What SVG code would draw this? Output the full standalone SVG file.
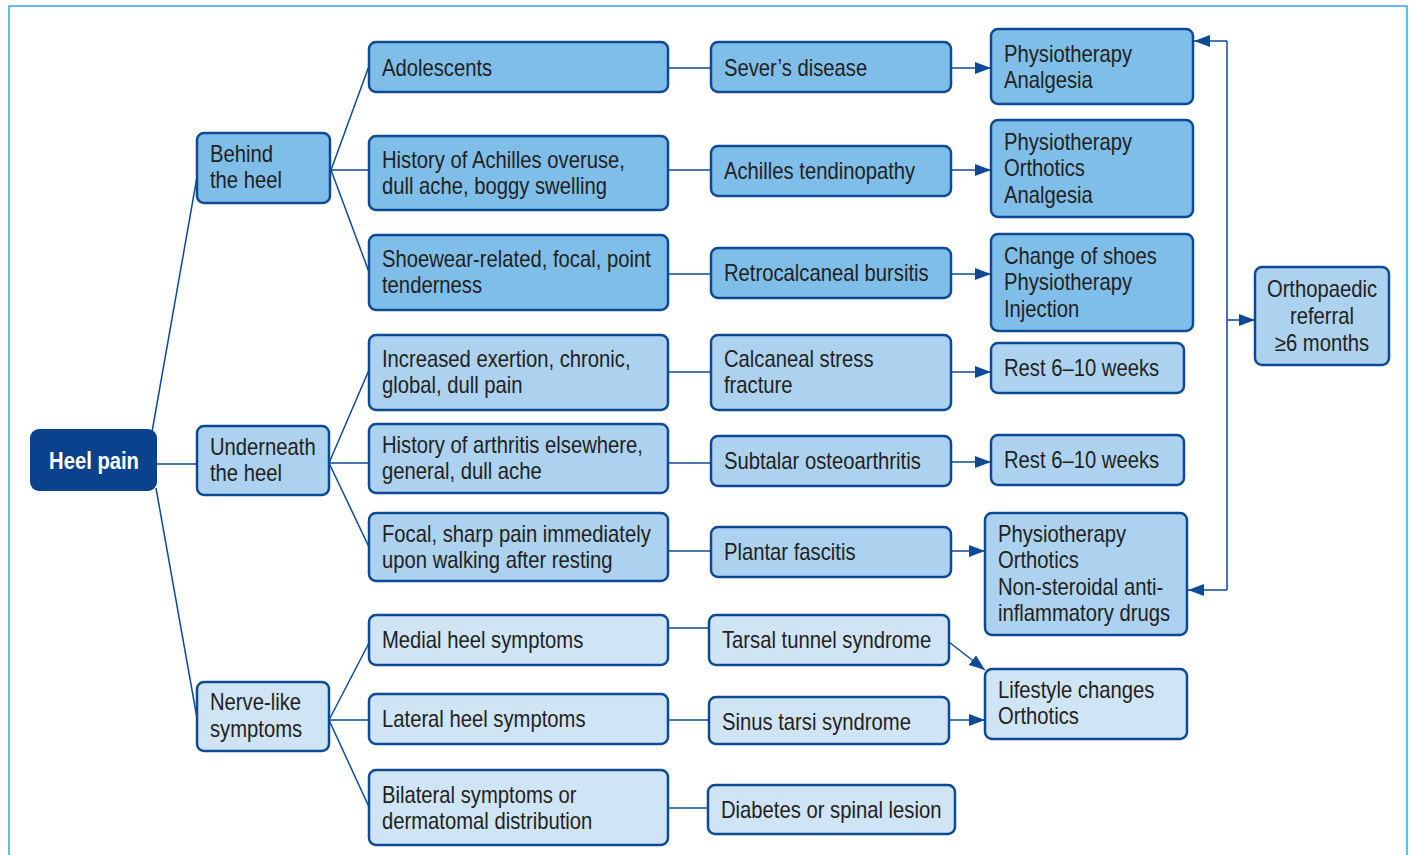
<svg xmlns="http://www.w3.org/2000/svg" width="1412" height="855" viewBox="0 0 1412 855">
<defs>
<marker id="ah" viewBox="0 0 16 12" refX="16" refY="6" markerWidth="16" markerHeight="12" markerUnits="userSpaceOnUse" orient="auto">
<path d="M0,0 L16,6 L0,12 Z" fill="#0d4a96"/>
</marker>
<style>
.b{stroke:#0d4a96;stroke-width:2.5}
.d{fill:#7fbee8}
.m{fill:#acd2f0}
.l{fill:#cfe4f5}
.t{font-family:"Liberation Sans",Arial,sans-serif;font-size:23px;fill:#231f20}
.c{fill:none;stroke:#0d4a96;stroke-width:1.5}
.a{fill:none;stroke:#0d4a96;stroke-width:1.5;marker-end:url(#ah)}
</style>
</defs>
<rect x="0" y="0" width="1412" height="855" fill="#ffffff"/>
<path d="M9,855 V6 H1407 V855" fill="none" stroke="#29abe2" stroke-width="1.5"/>

<g id="connectors">
<line class="c" x1="157" y1="464" x2="197" y2="464"/>
<line class="c" x1="152" y1="432" x2="197" y2="177"/>
<line class="c" x1="156" y1="488" x2="197" y2="718"/>
<line class="c" x1="331" y1="170" x2="369" y2="66"/>
<line class="c" x1="331" y1="170" x2="369" y2="170"/>
<line class="c" x1="331" y1="170" x2="369" y2="272"/>
<line class="c" x1="329" y1="463" x2="369" y2="370"/>
<line class="c" x1="329" y1="463" x2="369" y2="463"/>
<line class="c" x1="329" y1="463" x2="369" y2="547"/>
<line class="c" x1="329" y1="720" x2="369" y2="643"/>
<line class="c" x1="329" y1="720" x2="369" y2="720"/>
<line class="c" x1="329" y1="720" x2="369" y2="807"/>
<line class="c" x1="668" y1="68" x2="711" y2="68"/>
<line class="c" x1="668" y1="170" x2="711" y2="170"/>
<line class="c" x1="668" y1="274" x2="711" y2="274"/>
<line class="c" x1="668" y1="372" x2="711" y2="372"/>
<line class="c" x1="668" y1="463" x2="711" y2="463"/>
<line class="c" x1="668" y1="551" x2="711" y2="551"/>
<line class="c" x1="668" y1="628" x2="709" y2="628"/>
<line class="c" x1="668" y1="720" x2="709" y2="720"/>
<line class="c" x1="668" y1="808" x2="708" y2="808"/>
<line class="a" x1="951" y1="68" x2="991" y2="68"/>
<line class="a" x1="951" y1="170" x2="991" y2="170"/>
<line class="a" x1="951" y1="274" x2="991" y2="274"/>
<line class="a" x1="951" y1="372" x2="991" y2="372"/>
<line class="a" x1="951" y1="462" x2="991" y2="462"/>
<line class="a" x1="951" y1="551" x2="985" y2="551"/>
<line class="a" x1="949" y1="642" x2="985" y2="670"/>
<line class="a" x1="949" y1="720" x2="985" y2="720"/>
<polyline class="c" points="1227,41 1227,590"/>
<line class="a" x1="1227" y1="41" x2="1194" y2="41"/>
<line class="a" x1="1227" y1="590" x2="1188" y2="590"/>
<line class="a" x1="1227" y1="320" x2="1255" y2="320"/>
</g>

<g id="heel-pain">
<rect x="30" y="429" width="127" height="62" rx="9" fill="#0b428d"/>
<text transform="translate(94,469) scale(0.88,1)" text-anchor="middle" class="t" style="fill:#ffffff;font-weight:bold">Heel pain</text>
</g>

<g id="behind">
<rect class="b d" x="197" y="133" width="133" height="70" rx="7"/>
<text class="t" transform="translate(210,162) scale(0.88,1)"><tspan x="0" y="0">Behind</tspan><tspan x="0" y="26">the heel</tspan></text>
</g>
<g id="underneath">
<rect class="b m" x="197" y="426" width="132" height="69" rx="7"/>
<text class="t" transform="translate(210,455) scale(0.88,1)"><tspan x="0" y="0">Underneath</tspan><tspan x="0" y="26">the heel</tspan></text>
</g>
<g id="nerve">
<rect class="b l" x="197" y="682" width="132" height="69" rx="7"/>
<text class="t" transform="translate(210,710) scale(0.88,1)"><tspan x="0" y="0">Nerve-like</tspan><tspan x="0" y="27">symptoms</tspan></text>
</g>

<g id="adolescents">
<rect class="b d" x="369" y="42" width="299" height="50" rx="7"/>
<text class="t" transform="translate(382,76) scale(0.88,1)">Adolescents</text>
</g>
<g id="achilles-history">
<rect class="b d" x="369" y="136" width="299" height="74" rx="7"/>
<text class="t" transform="translate(382,168) scale(0.88,1)"><tspan x="0" y="0">History of Achilles overuse,</tspan><tspan x="0" y="26">dull ache, boggy swelling</tspan></text>
</g>
<g id="shoewear">
<rect class="b d" x="369" y="235" width="299" height="75" rx="7"/>
<text class="t" transform="translate(382,267) scale(0.88,1)"><tspan x="0" y="0">Shoewear-related, focal, point</tspan><tspan x="0" y="26">tenderness</tspan></text>
</g>
<g id="exertion">
<rect class="b m" x="369" y="335" width="299" height="75" rx="7"/>
<text class="t" transform="translate(382,367) scale(0.88,1)"><tspan x="0" y="0">Increased exertion, chronic,</tspan><tspan x="0" y="26">global, dull pain</tspan></text>
</g>
<g id="arthritis-history">
<rect class="b m" x="369" y="424" width="299" height="69" rx="7"/>
<text class="t" transform="translate(382,453) scale(0.88,1)"><tspan x="0" y="0">History of arthritis elsewhere,</tspan><tspan x="0" y="26">general, dull ache</tspan></text>
</g>
<g id="focal">
<rect class="b m" x="369" y="513" width="299" height="68" rx="7"/>
<text class="t" transform="translate(382,542) scale(0.88,1)"><tspan x="0" y="0">Focal, sharp pain immediately</tspan><tspan x="0" y="26">upon walking after resting</tspan></text>
</g>
<g id="medial">
<rect class="b l" x="369" y="615" width="299" height="50" rx="7"/>
<text class="t" transform="translate(382,648) scale(0.88,1)">Medial heel symptoms</text>
</g>
<g id="lateral">
<rect class="b l" x="369" y="694" width="299" height="50" rx="7"/>
<text class="t" transform="translate(382,727) scale(0.88,1)">Lateral heel symptoms</text>
</g>
<g id="bilateral">
<rect class="b l" x="369" y="770" width="299" height="75" rx="7"/>
<text class="t" transform="translate(382,803) scale(0.88,1)"><tspan x="0" y="0">Bilateral symptoms or</tspan><tspan x="0" y="26">dermatomal distribution</tspan></text>
</g>

<g id="severs">
<rect class="b d" x="711" y="42" width="240" height="50" rx="7"/>
<text class="t" transform="translate(724,76) scale(0.88,1)">Sever’s disease</text>
</g>
<g id="achilles-tend">
<rect class="b d" x="711" y="146" width="240" height="50" rx="7"/>
<text class="t" transform="translate(724,179) scale(0.88,1)">Achilles tendinopathy</text>
</g>
<g id="retro">
<rect class="b d" x="711" y="248" width="240" height="50" rx="7"/>
<text class="t" transform="translate(724,281) scale(0.88,1)">Retrocalcaneal bursitis</text>
</g>
<g id="calcaneal">
<rect class="b m" x="711" y="335" width="240" height="75" rx="7"/>
<text class="t" transform="translate(724,367) scale(0.88,1)"><tspan x="0" y="0">Calcaneal stress</tspan><tspan x="0" y="26">fracture</tspan></text>
</g>
<g id="subtalar">
<rect class="b m" x="711" y="436" width="240" height="50" rx="7"/>
<text class="t" transform="translate(724,469) scale(0.88,1)">Subtalar osteoarthritis</text>
</g>
<g id="plantar">
<rect class="b m" x="711" y="527" width="240" height="50" rx="7"/>
<text class="t" transform="translate(724,560) scale(0.88,1)">Plantar fascitis</text>
</g>
<g id="tarsal">
<rect class="b l" x="709" y="615" width="240" height="50" rx="7"/>
<text class="t" transform="translate(722,648) scale(0.88,1)">Tarsal tunnel syndrome</text>
</g>
<g id="sinus">
<rect class="b l" x="709" y="697" width="240" height="47" rx="7"/>
<text class="t" transform="translate(722,730) scale(0.88,1)">Sinus tarsi syndrome</text>
</g>
<g id="diabetes">
<rect class="b l" x="708" y="785" width="247" height="49" rx="7"/>
<text class="t" transform="translate(721,818) scale(0.88,1)">Diabetes or spinal lesion</text>
</g>

<g id="tx-severs">
<rect class="b d" x="991" y="29" width="202" height="75" rx="7"/>
<text class="t" transform="translate(1004,62) scale(0.88,1)"><tspan x="0" y="0">Physiotherapy</tspan><tspan x="0" y="26">Analgesia</tspan></text>
</g>
<g id="tx-achilles">
<rect class="b d" x="991" y="120" width="202" height="97" rx="7"/>
<text class="t" transform="translate(1004,150) scale(0.88,1)"><tspan x="0" y="0">Physiotherapy</tspan><tspan x="0" y="26.5">Orthotics</tspan><tspan x="0" y="53">Analgesia</tspan></text>
</g>
<g id="tx-retro">
<rect class="b d" x="991" y="234" width="202" height="97" rx="7"/>
<text class="t" transform="translate(1004,264) scale(0.88,1)"><tspan x="0" y="0">Change of shoes</tspan><tspan x="0" y="26.5">Physiotherapy</tspan><tspan x="0" y="53">Injection</tspan></text>
</g>
<g id="tx-calcaneal">
<rect class="b m" x="991" y="343" width="193" height="50" rx="7"/>
<text class="t" transform="translate(1004,376) scale(0.88,1)">Rest 6–10 weeks</text>
</g>
<g id="tx-subtalar">
<rect class="b m" x="991" y="435" width="193" height="50" rx="7"/>
<text class="t" transform="translate(1004,468) scale(0.88,1)">Rest 6–10 weeks</text>
</g>
<g id="tx-plantar">
<rect class="b m" x="985" y="513" width="202" height="122" rx="7"/>
<text class="t" transform="translate(998,542) scale(0.88,1)"><tspan x="0" y="0">Physiotherapy</tspan><tspan x="0" y="26.5">Orthotics</tspan><tspan x="0" y="53">Non-steroidal anti-</tspan><tspan x="0" y="79.5">inflammatory drugs</tspan></text>
</g>
<g id="tx-nerve">
<rect class="b l" x="985" y="669" width="202" height="70" rx="7"/>
<text class="t" transform="translate(998,698) scale(0.88,1)"><tspan x="0" y="0">Lifestyle changes</tspan><tspan x="0" y="26">Orthotics</tspan></text>
</g>
<g id="orthopaedic">
<rect class="b m" x="1255" y="267" width="134" height="98" rx="7"/>
<text class="t" transform="translate(1322,297) scale(0.88,1)" text-anchor="middle"><tspan x="0" y="0">Orthopaedic</tspan><tspan x="0" y="27">referral</tspan><tspan x="0" y="54">≥6 months</tspan></text>
</g>
</svg>
